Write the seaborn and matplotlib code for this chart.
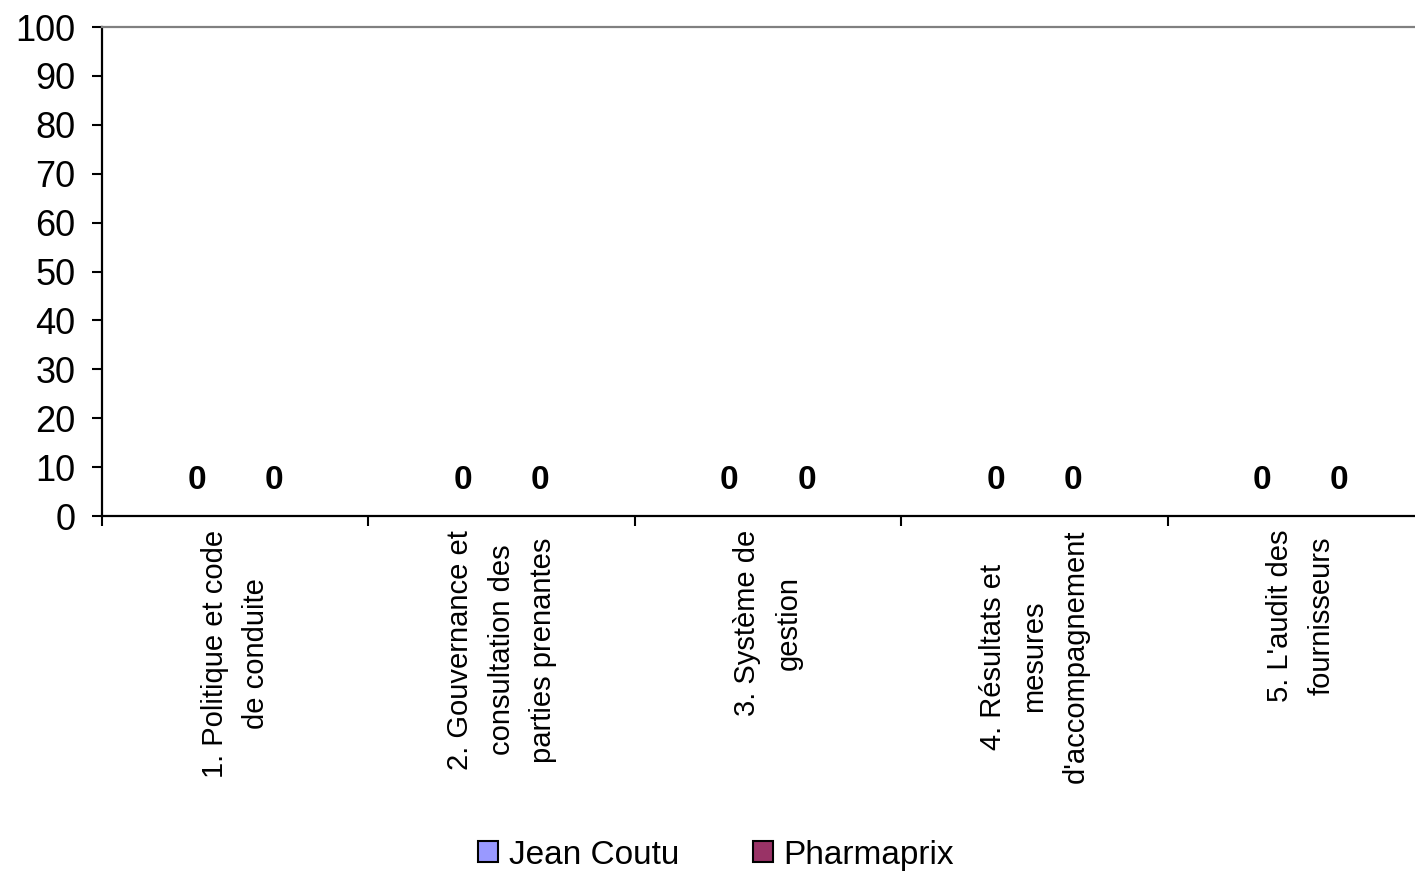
import pandas as pd
import numpy as np
import matplotlib
matplotlib.use("Agg")
import matplotlib.pyplot as plt
from matplotlib.patches import Patch
import seaborn as sns

# Données du graphique
categories = [
    "1. Politique et code\nde conduite",
    "2. Gouvernance et\nconsultation des\nparties prenantes",
    "3. Système de\ngestion",
    "4. Résultats et\nmesures\nd'accompagnement",
    "5. L'audit des\nfournisseurs",
]
jean_coutu = [0, 0, 0, 0, 0]
pharmaprix = [0, 0, 0, 0, 0]
series_names = ["Jean Coutu", "Pharmaprix"]
series_colors = ["#9999FF", "#993366"]
y_ticks = [0, 10, 20, 30, 40, 50, 60, 70, 80, 90, 100]

sns.set_style("white")
plt.rcParams['font.family'] = ['Liberation Sans', 'DejaVu Sans']
plt.rcParams['text.color'] = 'black'
plt.rcParams['xtick.color'] = 'black'
plt.rcParams['ytick.color'] = 'black'

df = pd.DataFrame({
    'categorie': categories * 2,
    'valeur': jean_coutu + pharmaprix,
    'serie': [series_names[0]] * len(categories) + [series_names[1]] * len(categories),
})

fig = plt.figure(figsize=(14.15, 8.71), dpi=100)
ax = fig.add_axes([102 / 1415, 1 - 516 / 871, 1332 / 1415, 489 / 871])

sns.barplot(data=df, x='categorie', y='valeur', hue='serie', order=categories,
            hue_order=series_names, palette=series_colors, width=0.58,
            edgecolor='black', linewidth=1, ax=ax, legend=False, errorbar=None)

# Étiquettes de valeurs
for cont in ax.containers:
    ax.bar_label(cont, fmt='%g', padding=14.7, fontsize=24, fontweight='bold')

ax.set_ylim(0, 100)
ax.set_xlim(-0.5, len(categories) - 0.5)
ax.set_yticks(y_ticks)
ax.set_xlabel('')
ax.set_ylabel('')

# Graduations
ax.set_xticks(np.arange(len(categories)))
ax.set_xticklabels(categories, rotation=90, fontsize=21, ha='center', va='top',
                   multialignment='center', linespacing=1.6)
ax.set_xticks(np.arange(-0.5, len(categories)), minor=True)
ax.tick_params(axis='x', which='major', length=0, pad=10)
ax.tick_params(axis='x', which='minor', length=7, width=1.5, color='black', bottom=True)
ax.tick_params(axis='y', which='major', length=7, width=1.5, color='black', left=True,
               labelsize=26, pad=12)

for side in ['left', 'bottom']:
    ax.spines[side].set_color('black')
    ax.spines[side].set_linewidth(1.6)
ax.spines['top'].set_color('#808080')
ax.spines['top'].set_linewidth(1.6)
ax.spines['right'].set_visible(False)

# Légende
handles = [Patch(facecolor=c, edgecolor='black', linewidth=1.5, label=n)
           for c, n in zip(series_colors, series_names)]
fig.legend(handles=handles, loc='center', bbox_to_anchor=(0.506, 1 - 855 / 871),
           ncol=2, frameon=False, fontsize=24, handlelength=0.6, handleheight=0.6,
           handletextpad=0.33, columnspacing=2.2, borderpad=0)

fig.savefig('out.png', dpi=100)
